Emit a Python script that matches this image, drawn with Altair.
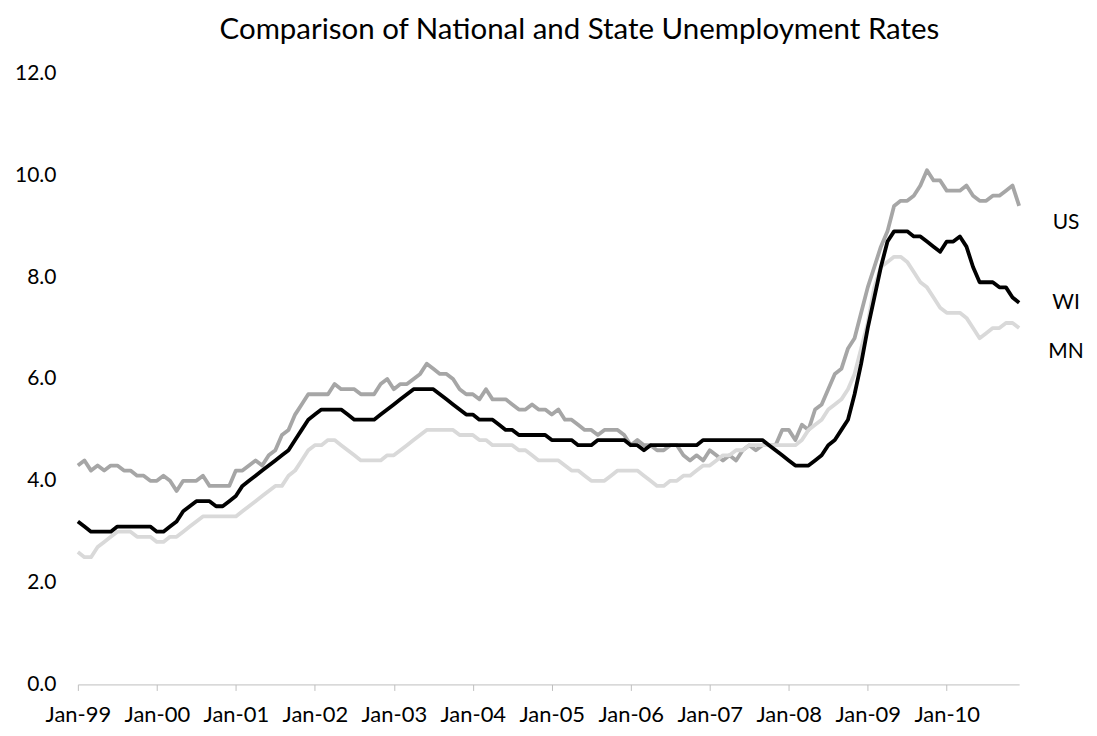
import json
import altair as alt
import pandas as pd

# Monthly unemployment rates, Jan-1999 .. Dec-2010
us = [
    4.3, 4.4, 4.2, 4.3, 4.2, 4.3, 4.3, 4.2, 4.2, 4.1, 4.1, 4.0,
    4.0, 4.1, 4.0, 3.8, 4.0, 4.0, 4.0, 4.1, 3.9, 3.9, 3.9, 3.9,
    4.2, 4.2, 4.3, 4.4, 4.3, 4.5, 4.6, 4.9, 5.0, 5.3, 5.5, 5.7,
    5.7, 5.7, 5.7, 5.9, 5.8, 5.8, 5.8, 5.7, 5.7, 5.7, 5.9, 6.0,
    5.8, 5.9, 5.9, 6.0, 6.1, 6.3, 6.2, 6.1, 6.1, 6.0, 5.8, 5.7,
    5.7, 5.6, 5.8, 5.6, 5.6, 5.6, 5.5, 5.4, 5.4, 5.5, 5.4, 5.4,
    5.3, 5.4, 5.2, 5.2, 5.1, 5.0, 5.0, 4.9, 5.0, 5.0, 5.0, 4.9,
    4.7, 4.8, 4.7, 4.7, 4.6, 4.6, 4.7, 4.7, 4.5, 4.4, 4.5, 4.4,
    4.6, 4.5, 4.4, 4.5, 4.4, 4.6, 4.7, 4.6, 4.7, 4.7, 4.7, 5.0,
    5.0, 4.8, 5.1, 5.0, 5.4, 5.5, 5.8, 6.1, 6.2, 6.6, 6.8, 7.3,
    7.8, 8.2, 8.6, 8.9, 9.4, 9.5, 9.5, 9.6, 9.8, 10.1, 9.9, 9.9,
    9.7, 9.7, 9.7, 9.8, 9.6, 9.5, 9.5, 9.6, 9.6, 9.7, 9.8, 9.4,
]
wi = [
    3.2, 3.1, 3.0, 3.0, 3.0, 3.0, 3.1, 3.1, 3.1, 3.1, 3.1, 3.1,
    3.0, 3.0, 3.1, 3.2, 3.4, 3.5, 3.6, 3.6, 3.6, 3.5, 3.5, 3.6,
    3.7, 3.9, 4.0, 4.1, 4.2, 4.3, 4.4, 4.5, 4.6, 4.8, 5.0, 5.2,
    5.3, 5.4, 5.4, 5.4, 5.4, 5.3, 5.2, 5.2, 5.2, 5.2, 5.3, 5.4,
    5.5, 5.6, 5.7, 5.8, 5.8, 5.8, 5.8, 5.7, 5.6, 5.5, 5.4, 5.3,
    5.3, 5.2, 5.2, 5.2, 5.1, 5.0, 5.0, 4.9, 4.9, 4.9, 4.9, 4.9,
    4.8, 4.8, 4.8, 4.8, 4.7, 4.7, 4.7, 4.8, 4.8, 4.8, 4.8, 4.8,
    4.7, 4.7, 4.6, 4.7, 4.7, 4.7, 4.7, 4.7, 4.7, 4.7, 4.7, 4.8,
    4.8, 4.8, 4.8, 4.8, 4.8, 4.8, 4.8, 4.8, 4.8, 4.7, 4.6, 4.5,
    4.4, 4.3, 4.3, 4.3, 4.4, 4.5, 4.7, 4.8, 5.0, 5.2, 5.7, 6.3,
    7.0, 7.6, 8.2, 8.7, 8.9, 8.9, 8.9, 8.8, 8.8, 8.7, 8.6, 8.5,
    8.7, 8.7, 8.8, 8.6, 8.2, 7.9, 7.9, 7.9, 7.8, 7.8, 7.6, 7.5,
]
mn = [
    2.6, 2.5, 2.5, 2.7, 2.8, 2.9, 3.0, 3.0, 3.0, 2.9, 2.9, 2.9,
    2.8, 2.8, 2.9, 2.9, 3.0, 3.1, 3.2, 3.3, 3.3, 3.3, 3.3, 3.3,
    3.3, 3.4, 3.5, 3.6, 3.7, 3.8, 3.9, 3.9, 4.1, 4.2, 4.4, 4.6,
    4.7, 4.7, 4.8, 4.8, 4.7, 4.6, 4.5, 4.4, 4.4, 4.4, 4.4, 4.5,
    4.5, 4.6, 4.7, 4.8, 4.9, 5.0, 5.0, 5.0, 5.0, 5.0, 4.9, 4.9,
    4.9, 4.8, 4.8, 4.7, 4.7, 4.7, 4.7, 4.6, 4.6, 4.5, 4.4, 4.4,
    4.4, 4.4, 4.3, 4.2, 4.2, 4.1, 4.0, 4.0, 4.0, 4.1, 4.2, 4.2,
    4.2, 4.2, 4.1, 4.0, 3.9, 3.9, 4.0, 4.0, 4.1, 4.1, 4.2, 4.3,
    4.3, 4.4, 4.5, 4.5, 4.6, 4.6, 4.7, 4.7, 4.7, 4.7, 4.7, 4.7,
    4.7, 4.7, 4.8, 5.0, 5.1, 5.2, 5.4, 5.5, 5.6, 5.8, 6.1, 6.6,
    7.1, 7.8, 8.2, 8.3, 8.4, 8.4, 8.3, 8.1, 7.9, 7.8, 7.6, 7.4,
    7.3, 7.3, 7.3, 7.2, 7.0, 6.8, 6.9, 7.0, 7.0, 7.1, 7.1, 7.0,
]
series_names = ["US", "WI", "MN"]
series_colors = ["#A6A6A6", "#000000", "#D9D9D9"]
tick_labels = ["Jan-99", "Jan-00", "Jan-01", "Jan-02", "Jan-03", "Jan-04",
               "Jan-05", "Jan-06", "Jan-07", "Jan-08", "Jan-09", "Jan-10"]
y_ticks = [0, 2, 4, 6, 8, 10, 12]

FONT = "Lato"
n = len(us)
rows = []
for name, vals in zip(series_names, [us, wi, mn]):
    for i, v in enumerate(vals):
        rows.append({"series": name, "month": i, "rate": v})
df = pd.DataFrame(rows)

label_expr = json.dumps(tick_labels) + "[round(datum.value / 12)]"

x_enc = alt.X(
    "month:Q",
    scale=alt.Scale(domain=[0, n - 1], nice=False, zero=False),
    axis=alt.Axis(
        title=None, values=[12 * k for k in range(len(tick_labels))],
        labelExpr=label_expr, grid=False, domainColor="#BFBFBF",
        tickColor="#BFBFBF", tickSize=6, labelFontSize=22, labelFont=FONT,
        labelColor="#000000", labelPadding=14, labelFlush=False,
        labelOverlap=False,
    ),
)
y_enc = alt.Y(
    "rate:Q",
    scale=alt.Scale(domain=[0, 12], nice=False),
    axis=alt.Axis(
        title=None, values=y_ticks, format=".1f", grid=False, domain=False,
        ticks=False, tickSize=0, labelFontSize=21, labelFont=FONT,
        labelColor="#000000", labelPadding=22,
    ),
)
color_enc = alt.Color(
    "series:N",
    scale=alt.Scale(domain=series_names, range=series_colors),
    legend=None,
)

base = alt.Chart(df)
layers = []
for name in ["US", "MN", "WI"]:
    layers.append(
        base.transform_filter(alt.datum.series == name)
        .mark_line(strokeWidth=3.8, strokeJoin="round")
        .encode(x=x_enc, y=y_enc, color=color_enc)
    )

label_dy = {"US": 17, "WI": 0, "MN": 24}
for name in series_names:
    layers.append(
        base.transform_filter((alt.datum.series == name) & (alt.datum.month == n - 1))
        .mark_text(align="center", baseline="middle", dx=47, dy=label_dy[name],
                   fontSize=21, font=FONT, color="#000000")
        .encode(x="month:Q", y="rate:Q", text="series:N")
    )

chart = (
    alt.layer(*layers)
    .properties(
        width=943, height=612,
        autosize=alt.AutoSizeParams(type="none"),
        padding={"left": 70, "top": 65, "right": 70, "bottom": 50},
        background="white",
        title=alt.TitleParams(
            "Comparison of National and State Unemployment Rates",
            font=FONT, fontSize=29.5, fontWeight="normal", color="#000000",
            anchor="middle", dx=31, offset=17,
        ),
    )
    .configure_view(strokeWidth=0, stroke="transparent")
)

chart.save("out.html", embed_options={"renderer": "svg", "actions": False})
